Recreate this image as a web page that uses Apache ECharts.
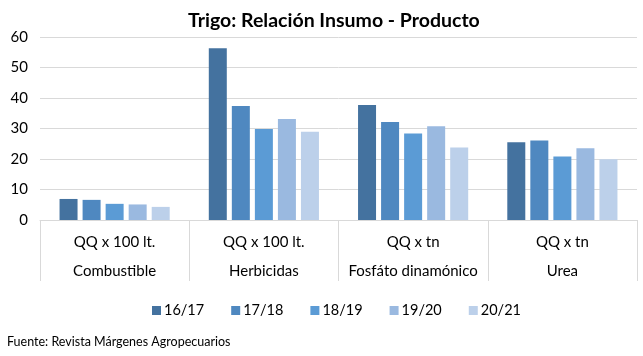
<!DOCTYPE html>
<html>
<head>
<meta charset="utf-8">
<script src="https://cdn.jsdelivr.net/npm/echarts@6/dist/echarts.min.js"></script>
<style>
html,body{margin:0;padding:0;background:#fff;}
#chart{width:643px;height:356px;}
</style>
</head>
<body>
<div id="chart"></div>
<script>
var units = ['QQ x 100 lt.', 'QQ x 100 lt.', 'QQ x tn', 'QQ x tn'];
var inputs = ['Combustible', 'Herbicidas', 'Fosfáto dinamónico', 'Urea'];
var seasons = ['16/17', '17/18', '18/19', '19/20', '20/21'];
var s1617 = [6.9, 56.3, 37.7, 25.5];
var s1718 = [6.6, 37.4, 32.1, 26.1];
var s1819 = [5.3, 29.8, 28.4, 20.8];
var s1920 = [5.1, 33.1, 30.7, 23.5];
var s2021 = [4.3, 28.9, 23.8, 19.9];
var yTicks = [0, 10, 20, 30, 40, 50, 60];

var FONT = 'Lato, "Open Sans", sans-serif';
var colors = ['#44729F', '#4F88C0', '#5B9BD5', '#9AB9E0', '#BCD0EA'];
var allSeries = [s1617, s1718, s1819, s1920, s2021];
var categories = units.map(function (u, i) { return u + '\n' + inputs[i]; });

var chart = echarts.init(document.getElementById('chart'), null, {renderer: 'canvas'});
chart.setOption({
  animation: false,
  color: colors,
  title: {
    text: 'Trigo: Relación Insumo - Producto',
    left: 183, top: 6,
    textStyle: {fontFamily: FONT, fontWeight: 'bold', fontSize: 19.5, color: '#000'}
  },
  grid: {left: 40, right: 6, top: 37, bottom: 136, containLabel: false},
  legend: {
    data: seasons,
    left: 152, top: 303, padding: 0,
    itemWidth: 9, itemHeight: 9, itemGap: 27,
    icon: 'rect',
    textStyle: {fontFamily: FONT, fontSize: 14.5, color: '#000', padding: [0, 0, 0, -2]}
  },
  graphic: [{
    type: 'text', left: 7, top: 335,
    style: {text: 'Fuente: Revista Márgenes Agropecuarios', fontFamily: FONT, fontSize: 12.5, fill: '#000'}
  }],
  xAxis: {
    type: 'category',
    data: categories,
    axisLine: {show: true, lineStyle: {color: '#d9d9d9', width: 1}},
    axisTick: {show: true, length: 61, interval: 0, lineStyle: {color: '#d9d9d9'}},
    axisLabel: {
      interval: 0, margin: 8,
      fontFamily: FONT, fontSize: 15, color: '#000', lineHeight: 28.5
    }
  },
  yAxis: {
    type: 'value', min: yTicks[0], max: yTicks[yTicks.length - 1], interval: 10,
    axisLine: {show: false}, axisTick: {show: false},
    axisLabel: {fontFamily: FONT, fontSize: 15, color: '#000', margin: 12},
    splitLine: {lineStyle: {color: '#d9d9d9', width: 1}}
  },
  series: seasons.map(function (s, i) {
    return {
      name: s, type: 'bar', data: allSeries[i],
      barWidth: 18, barGap: '28%'
    };
  })
});
</script>
</body>
</html>
